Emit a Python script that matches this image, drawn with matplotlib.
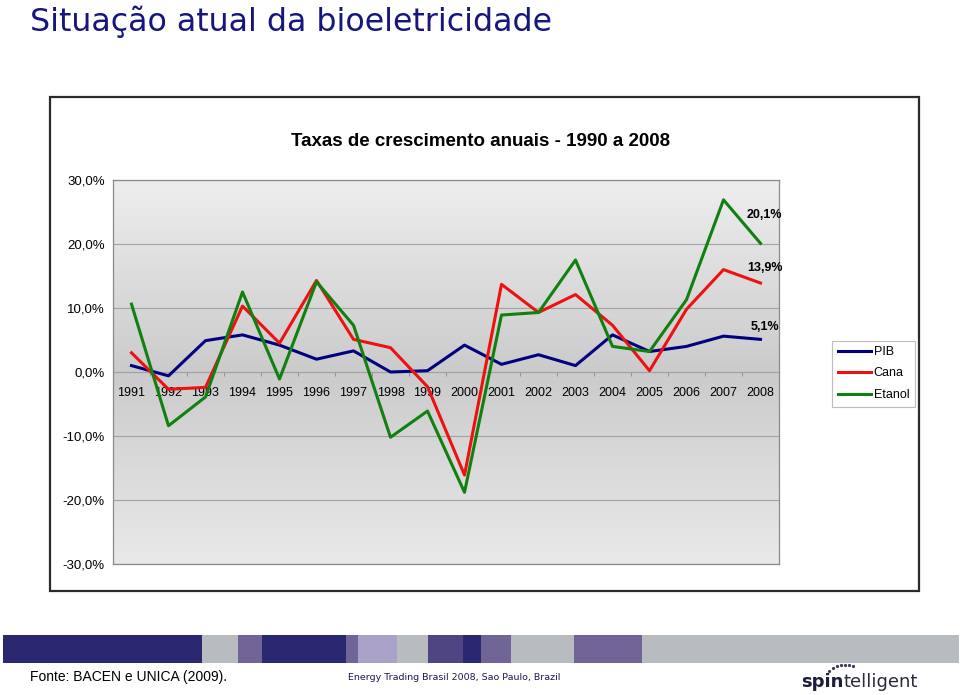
import numpy as np
import matplotlib.pyplot as plt
from matplotlib.colors import LinearSegmentedColormap
from matplotlib.patches import Rectangle
from matplotlib.lines import Line2D

# data (growth rates, %)
years = [str(y) for y in range(1991, 2009)]
pib = [1.0, -0.6, 4.9, 5.8, 4.2, 2.0, 3.3, 0.0, 0.2, 4.2, 1.2, 2.7, 1.0, 5.8, 3.2, 4.0, 5.6, 5.1]
cana = [3.0, -2.7, -2.4, 10.3, 4.5, 14.3, 5.1, 3.8, -2.3, -16.1, 13.7, 9.3, 12.1, 7.3, 0.2, 9.8, 16.0, 13.9]
etanol = [10.6, -8.4, -3.9, 12.5, -1.1, 14.1, 7.3, -10.2, -6.1, -18.8, 8.9, 9.3, 17.5, 4.0, 3.2, 11.3, 26.9, 20.1]
yticks = [-30, -20, -10, 0, 10, 20, 30]

W, H = 960, 695
fig = plt.figure(figsize=(W / 100, H / 100), dpi=100)

def fx(px):
    return px / W

def fy(py):
    return 1 - py / H

arial = ['Liberation Sans', 'DejaVu Sans']

# page title
fig.text(fx(30), fy(31), 'Situação atual da bioeletricidade', fontsize=22.8,
         color='#16167f', family='DejaVu Sans', va='baseline', ha='left')

# chart frame
fig.patches.append(Rectangle((fx(50), fy(591)), fx(919) - fx(50), fy(97) - fy(591),
                             transform=fig.transFigure, fill=False,
                             edgecolor='#2b2b2b', linewidth=1.6, zorder=1))

ax = fig.add_axes([fx(113), fy(564), fx(779) - fx(113), fy(180) - fy(564)])
ax.set_xlim(-0.5, 17.5)
ax.set_ylim(-30, 30)

# background gradient of the plot area
cmap = LinearSegmentedColormap.from_list('bg', ['#eeeeee', '#cbcbcb', '#e9e9e9'])
ax.imshow(np.linspace(0, 1, 256).reshape(-1, 1), cmap=cmap, aspect='auto',
          extent=(0, 1, 0, 1), transform=ax.transAxes, zorder=0)

for v in yticks:
    ax.axhline(v, color='#a2a2a2', linewidth=0.8, zorder=1)

x = np.arange(len(years))
ax.plot(x, pib, color='#000080', linewidth=2.2, label='PIB', zorder=3)
ax.plot(x, cana, color='#ee1111', linewidth=2.2, label='Cana', zorder=3)
ax.plot(x, etanol, color='#108010', linewidth=2.2, label='Etanol', zorder=3)

ax.set_yticks(yticks)
ax.set_yticklabels([f'{v:.1f}%'.replace('.', ',') for v in yticks],
                   fontsize=9.5, family=arial)
ax.tick_params(axis='y', length=0, pad=6)
ax.set_xticks([])
for s in ax.spines.values():
    s.set_color('#8a8a8a')
    s.set_linewidth(0.9)

# category axis crossing at 0, drawn under the lines
sec = ax.secondary_xaxis(0.5)
sec.set_zorder(2)
sec.set_alignment('bottom')
sec.set_xticks(x)
sec.set_xticklabels(years, fontsize=9, family=arial)
sec.set_xticks(np.arange(-0.5, 18, 1), minor=True)
sec.tick_params(which='major', length=0, pad=11)
sec.tick_params(which='minor', length=3, color='#8a8a8a')
for s in sec.spines.values():
    s.set_color('#a2a2a2')
    s.set_linewidth(0.8)

# end labels
for val, off in [(etanol[-1], 28), (cana[-1], 15), (pib[-1], 12)]:
    ax.annotate(f'{val:.1f}%'.replace('.', ','), xy=(x[-1], val), xytext=(4, off),
                textcoords='offset pixels', ha='center', va='center',
                fontsize=9, fontweight='bold', family=arial, zorder=4)

fig.text(fx(481), fy(142), 'Taxas de crescimento anuais - 1990 a 2008', ha='center',
         va='center', fontsize=13.5, fontweight='bold', family=arial)

leg = ax.legend(loc='center', bbox_to_anchor=(fx(873.5), fy(373.5)),
                bbox_transform=fig.transFigure, frameon=True, fancybox=False,
                edgecolor='#bdbdbd', framealpha=1, prop={'family': arial, 'size': 9},
                handlelength=2.7, handletextpad=0.2, labelspacing=0.75,
                borderpad=0.45, borderaxespad=0)
leg.get_frame().set_linewidth(0.8)

# footer band
band = [(3, 202, '#2a2870'), (202, 238, '#b9bcbe'), (238, 262, '#706596'),
        (262, 346, '#2a2870'), (346, 358, '#706596'), (358, 397, '#a9a1c8'),
        (397, 428, '#b9bcbe'), (428, 463, '#4f4582'), (463, 481, '#2a2870'),
        (481, 511, '#706596'), (511, 574, '#b9bcbe'), (574, 642, '#706596'),
        (642, 959, '#b9bcbe')]
for x0, x1, c in band:
    fig.patches.append(Rectangle((fx(x0), fy(663)), fx(x1) - fx(x0), fy(635) - fy(663),
                                 transform=fig.transFigure, color=c, linewidth=0))

fig.text(fx(30), fy(677), 'Fonte: BACEN e UNICA (2009).', fontsize=10, family=arial,
         va='center', ha='left')
fig.text(fx(348), fy(677), 'Energy Trading Brasil 2008, Sao Paulo, Brazil', fontsize=6.8,
         family='DejaVu Sans', color='#1a1a50', va='center', ha='left')

spin = fig.text(fx(801), fy(687), 'spin', fontsize=13, fontweight='bold',
                family='DejaVu Sans', color='#1c1c3c', va='baseline', ha='left')
ax.annotate('telligent', xy=(1, 0), xycoords=spin, xytext=(0, 0), textcoords='offset pixels',
            fontsize=13, family='DejaVu Sans', color='#2a2a3a', va='bottom', ha='left',
            annotation_clip=False)
dots_x = [829, 833, 837, 841, 845, 849, 853]
dots_y = [671, 668, 666, 665, 665, 665, 666]
fig.add_artist(Line2D([fx(v) for v in dots_x], [fy(v) for v in dots_y], linestyle='none',
                      marker='o', markersize=1.3, color='#3a3a5a', transform=fig.transFigure))

fig.savefig('out.png', dpi=100, facecolor='white')
